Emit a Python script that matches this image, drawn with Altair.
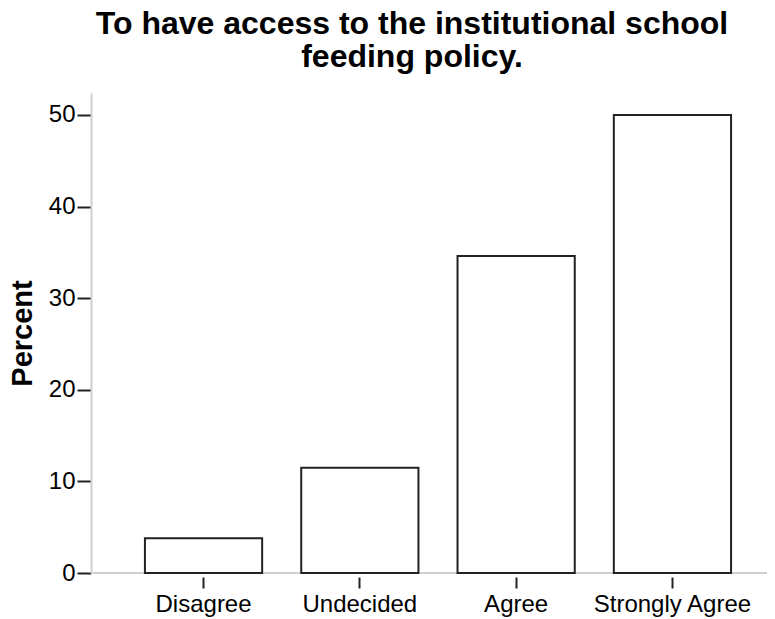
import altair as alt
import pandas as pd

categories = ["Disagree", "Undecided", "Agree", "Strongly Agree"]
percents = [3.8, 11.5, 34.6, 50.0]
y_ticks = [0, 10, 20, 30, 40, 50]

df = pd.DataFrame({"category": categories, "percent": percents})

FONT = "Liberation Sans"

x = alt.X(
    "category:N",
    sort=categories,
    title=None,
    scale=alt.Scale(paddingInner=0.25, paddingOuter=0.2875, align=0.6),
    axis=alt.Axis(
        domain=False,
        offset=4,
        tickSize=11,
        tickColor="#222222",
        tickWidth=2,
        labelAngle=0,
        labelFont=FONT,
        labelFontSize=24,
        labelColor="#000000",
        labelPadding=4,
    ),
)

y = alt.Y(
    "percent:Q",
    title="Percent",
    scale=alt.Scale(domain=[0, 52.4], nice=False, zero=True),
    axis=alt.Axis(
        values=y_ticks,
        grid=False,
        domainColor="#d0d0d0",
        domainWidth=2,
        tickSize=14,
        tickColor="#222222",
        tickWidth=2,
        labelFont=FONT,
        labelFontSize=24,
        labelColor="#000000",
        labelPadding=2,
        titleFont=FONT,
        titleFontSize=29,
        titleFontWeight="bold",
        titleColor="#000000",
        titlePadding=11,
    ),
)

bars = alt.Chart(df).mark_bar(
    fill="white", stroke="#222222", strokeWidth=2
).encode(x=x, y=y)

baseline = alt.Chart(df).mark_rule(color="#d0d0d0", strokeWidth=2).encode(
    y=alt.datum(0)
)

chart = (
    alt.layer(baseline, bars)
    .properties(
        width=676,
        height=480,
        padding={"left": 83, "top": 85, "right": 0, "bottom": 46},
        autosize=alt.AutoSizeParams(type="none"),
        title=alt.TitleParams(
            text=["To have access to the institutional school", "feeding policy."],
            font=FONT,
            fontSize=32,
            fontWeight="bold",
            color="#000000",
            lineHeight=33,
            anchor="middle",
            dx=-17,
            offset=19,
        ),
    )
    .configure_view(stroke=None)
)

chart.save("out.html", embed_options={"renderer": "svg", "actions": False})
